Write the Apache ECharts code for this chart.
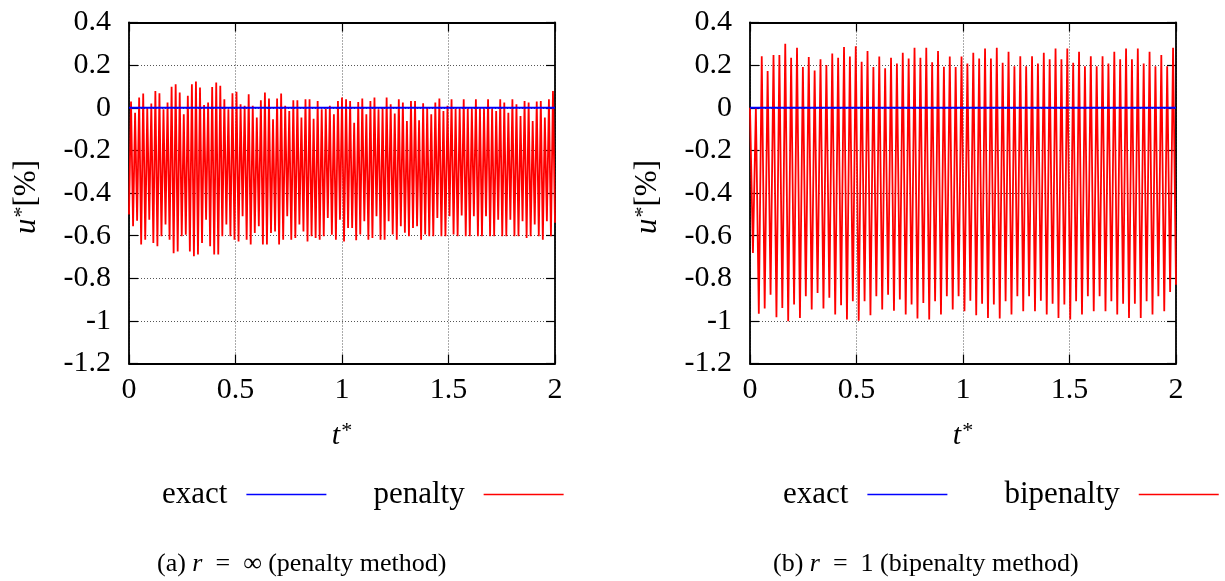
<!DOCTYPE html>
<html><head><meta charset="utf-8">
<script src="https://cdn.jsdelivr.net/npm/echarts@6/dist/echarts.min.js"></script>
<style>html,body{margin:0;padding:0;background:#fff}#c{width:1225px;height:581px}</style>
</head><body><div id="c"></div>
<script>
// ---------------- data ----------------
const xTicks = [0, 0.5, 1, 1.5, 2];
const yTicks = [-1.2, -1, -0.8, -0.6, -0.4, -0.2, 0, 0.2, 0.4];
const tStart = 0, tEnd = 2;

// exact solution (both panels)
const exactT = [0, 2];
const exactU = [0, 0];

// (a) penalty: successive troughs and peaks of u*, evenly spaced in time over [0, 2]
const penaltyTroughs = [
  -0.501, -0.556, -0.530, -0.642, -0.619, -0.525, -0.635, -0.650, -0.603, -0.548,
  -0.619, -0.683, -0.674, -0.603, -0.596, -0.674, -0.697, -0.689, -0.635, -0.525,
  -0.650, -0.689, -0.689, -0.603, -0.548, -0.603, -0.619, -0.627, -0.509, -0.619,
  -0.642, -0.588, -0.556, -0.642, -0.642, -0.588, -0.580, -0.642, -0.619, -0.509,
  -0.619, -0.611, -0.548, -0.580, -0.627, -0.603, -0.611, -0.619, -0.603, -0.517,
  -0.596, -0.619, -0.525,
  -0.627, -0.564, -0.564, -0.622, -0.595, -0.533, -0.619, -0.611, -0.509, -0.619,
  -0.619, -0.533, -0.595, -0.619, -0.556, -0.587, -0.603, -0.564, -0.556, -0.619,
  -0.595, -0.603, -0.603, -0.517, -0.603, -0.603, -0.509, -0.595, -0.603, -0.506,
  -0.603, -0.603, -0.509, -0.603, -0.603, -0.509, -0.603, -0.603, -0.525, -0.603,
  -0.603, -0.525, -0.603, -0.603, -0.533, -0.611, -0.603, -0.548, -0.603, -0.619,
  -0.533, -0.603, -0.540
];
const penaltyPeaks = [
  0.029, -0.023, 0.048, 0.067, 0.001, 0.020, 0.079, 0.068, -0.007, 0.024,
  0.098, 0.110, 0.071, -0.031, 0.056, 0.110, 0.123, 0.095, 0.013, 0.024,
  0.097, 0.119, 0.103, 0.040, -0.007, 0.068, 0.075, 0.016, 0.009, 0.063,
  0.009, -0.046, 0.035, 0.071, 0.043, -0.054, 0.043, 0.067, 0.009, -0.015,
  0.035, 0.035, -0.046, 0.040, 0.040, -0.052, 0.032, -0.007, -0.004, 0.009,
  -0.031, 0.032, 0.048,
  0.040, 0.032, -0.070, 0.027, 0.043, -0.031, 0.032, 0.048, -0.007, 0.001,
  0.048, 0.016, -0.027, 0.040, 0.024, -0.062, 0.032, 0.032, -0.059, 0.021,
  0.001, -0.031, 0.024, 0.043, -0.015, 0.009, 0.040, -0.004, -0.004, 0.040,
  -0.004, -0.004, 0.040, -0.004, -0.004, 0.040, -0.004, -0.015, 0.040, 0.024,
  -0.023, 0.040, 0.016, -0.039, 0.032, 0.024, -0.062, 0.029, 0.032, -0.046,
  0.040, 0.079
];

// (b) bipenalty: starting value, then successive troughs and peaks, evenly spaced in time over [0, 2]
const bipenaltyStart = [0];
const bipenaltyTroughs = [
  -0.681,
  -0.967, -0.942, -0.877, -0.983, -0.939, -1.002, -0.923, -0.986, -0.884, -0.947,
  -0.869, -0.942, -0.892, -0.970, -0.927, -0.994, -0.908, -0.999, -0.908, -0.974,
  -0.884, -0.947, -0.877, -0.952, -0.900, -0.970, -0.923, -0.989, -0.916, -0.994,
  -0.908, -0.970, -0.884, -0.947, -0.884,
  -0.955, -0.905, -0.974, -0.920, -0.986, -0.923, -0.989, -0.908, -0.970, -0.884,
  -0.955, -0.884, -0.955, -0.905, -0.970, -0.920, -0.986, -0.923, -0.994, -0.908,
  -0.970, -0.884, -0.955, -0.884, -0.955, -0.908, -0.970, -0.920, -0.986, -0.920,
  -0.986, -0.908, -0.970, -0.884, -0.955, -0.864, -0.830
];
const bipenaltyPeaks = [
  0.000,
  0.242, 0.172, 0.247, 0.247, 0.300, 0.235, 0.282, 0.191, 0.238, 0.175,
  0.227, 0.200, 0.254, 0.235, 0.285, 0.241, 0.289, 0.216, 0.266, 0.191,
  0.241, 0.185, 0.235, 0.207, 0.258, 0.231, 0.282, 0.235, 0.282, 0.213,
  0.266, 0.192, 0.241, 0.191, 0.241,
  0.207, 0.258, 0.231, 0.278, 0.231, 0.282, 0.211, 0.263, 0.195, 0.242,
  0.195, 0.242, 0.207, 0.258, 0.227, 0.278, 0.227, 0.278, 0.211, 0.263,
  0.195, 0.242, 0.195, 0.242, 0.207, 0.263, 0.227, 0.278, 0.227, 0.278,
  0.207, 0.263, 0.195, 0.247, 0.195, 0.282
];

// ---------------- build series data ----------------
function zigzag(start, troughs, peaks) {
  const vals = start.slice();
  for (let i = 0; i < troughs.length; i++) {
    vals.push(troughs[i]);
    if (i < peaks.length) vals.push(peaks[i]);
  }
  const n = vals.length;
  return vals.map((v, i) => [tStart + (tEnd - tStart) * i / (n - 1), v]);
}
const exactData = exactT.map((t, i) => [t, exactU[i]]);
const penaltyData = zigzag([], penaltyTroughs, penaltyPeaks);
const bipenaltyData = zigzag(bipenaltyStart, bipenaltyTroughs, bipenaltyPeaks);

// ---------------- styling ----------------
const FF = "'Liberation Serif','Times New Roman',serif";
const xStep = xTicks[1] - xTicks[0];
const yStep = 0.2;
const fmt = v => String(+(+v).toFixed(1));
const BORDER = { color: '#000', width: 1.8 };
const TICK = { show: true, inside: true, length: 9, lineStyle: { color: '#000', width: 1.2 } };

function mainX(g) {
  return {
    type: 'value', gridIndex: g, position: 'bottom',
    min: xTicks[0], max: xTicks[xTicks.length - 1], interval: xStep,
    axisLine: { show: true, onZero: false, lineStyle: BORDER },
    axisTick: TICK,
    axisLabel: { margin: 12, fontFamily: FF, fontSize: 30, color: '#000', formatter: fmt },
    splitLine: { show: true, lineStyle: { color: '#555', width: 1, type: [1, 2] } },
    name: '{i|t}{s|*}', nameLocation: 'middle', nameGap: 57,
    nameTextStyle: { color: '#000', rich: {
      i: { fontFamily: FF, fontStyle: 'italic', fontSize: 30, color: '#000' },
      s: { fontFamily: FF, fontSize: 22, color: '#000', padding: [0, 0, 10, 1] } } }
  };
}
function mirrorX(g) {
  return {
    type: 'value', gridIndex: g, position: 'top',
    min: xTicks[0], max: xTicks[xTicks.length - 1], interval: xStep,
    axisLine: { show: true, onZero: false, lineStyle: BORDER },
    axisTick: TICK,
    axisLabel: { show: false }, splitLine: { show: false }
  };
}
function mainY(g) {
  return {
    type: 'value', gridIndex: g, position: 'left',
    min: yTicks[0], max: yTicks[yTicks.length - 1], interval: yStep,
    axisLine: { show: true, onZero: false, lineStyle: BORDER },
    axisTick: TICK,
    axisLabel: { margin: 18, fontFamily: FF, fontSize: 30, color: '#000', formatter: fmt },
    splitLine: { show: true, lineStyle: { color: '#555', width: 1, type: [1, 2] } },
    name: '{i|u}{s|*}{n|[%]}', nameLocation: 'middle', nameGap: 86, nameRotate: 90,
    nameTextStyle: { color: '#000', padding: [0, 8, 0, 0], rich: {
      i: { fontFamily: FF, fontStyle: 'italic', fontSize: 31, color: '#000' },
      s: { fontFamily: FF, fontSize: 22, color: '#000', padding: [0, 0, 10, 1] },
      n: { fontFamily: FF, fontSize: 31, color: '#000' } } }
  };
}
function mirrorY(g) {
  return {
    type: 'value', gridIndex: g, position: 'right',
    min: yTicks[0], max: yTicks[yTicks.length - 1], interval: yStep,
    axisLine: { show: true, onZero: false, lineStyle: BORDER },
    axisTick: TICK,
    axisLabel: { show: false }, splitLine: { show: false }
  };
}
function legendFor(names, left, gap) {
  return {
    data: names, left: left, top: 479, width: 600, padding: 0, orient: 'horizontal', align: 'right',
    icon: 'rect', itemWidth: 80, itemHeight: 1.5, itemGap: gap,
    formatter: n => '{n|' + n + '}{g|}',
    textStyle: { color: '#000', fontFamily: FF, fontSize: 31,
      rich: { n: { fontFamily: FF, fontSize: 31, color: '#000' }, g: { width: 14 } } }
  };
}
function caption(text, left) {
  return {
    text: text, left: left, top: 551, padding: 0,
    textStyle: { fontFamily: FF, fontSize: 26, fontWeight: 'normal', color: '#000',
      rich: { i: { fontFamily: FF, fontStyle: 'italic', fontSize: 26, color: '#000' },
              m: { fontFamily: FF, fontSize: 26, color: '#000' } } }
  };
}

const option = {
  animation: false,
  backgroundColor: '#ffffff',
  title: [
    caption('{m|(a) }{i|r}{m|  =  ∞ (penalty method)}', 157),
    caption('{m|(b) }{i|r}{m|  =  1 (bipenalty method)}', 773)
  ],
  legend: [
    legendFor(['exact', 'penalty'], 162, 47),
    legendFor(['exact', 'bipenalty'], 783, 57)
  ],
  grid: [
    { left: 129, top: 22.5, width: 426, height: 341 },
    { left: 750, top: 22.5, width: 426, height: 341 }
  ],
  xAxis: [mainX(0), mirrorX(0), mainX(1), mirrorX(1)],
  yAxis: [mainY(0), mirrorY(0), mainY(1), mirrorY(1)],
  series: [
    { name: 'penalty', type: 'line', xAxisIndex: 0, yAxisIndex: 0, data: penaltyData,
      showSymbol: false, symbol: 'none', z: 2, color: '#ff0000',
      itemStyle: { color: '#ff0000' }, lineStyle: { color: '#ff0000', width: 1.8 } },
    { name: 'exact', type: 'line', xAxisIndex: 0, yAxisIndex: 0, data: exactData,
      showSymbol: false, symbol: 'none', z: 3, color: '#0000ff',
      itemStyle: { color: '#0000ff' }, lineStyle: { color: '#0000ff', width: 2 } },
    { name: 'bipenalty', type: 'line', xAxisIndex: 2, yAxisIndex: 2, data: bipenaltyData,
      showSymbol: false, symbol: 'none', z: 2, color: '#ff0000',
      itemStyle: { color: '#ff0000' }, lineStyle: { color: '#ff0000', width: 1.8 } },
    { name: 'exact', type: 'line', xAxisIndex: 2, yAxisIndex: 2, data: exactData,
      showSymbol: false, symbol: 'none', z: 3, color: '#0000ff',
      itemStyle: { color: '#0000ff' }, lineStyle: { color: '#0000ff', width: 2 } }
  ]
};

const chart = echarts.init(document.getElementById('c'), null, { renderer: 'canvas' });
chart.setOption(option);
</script>
</body></html>
